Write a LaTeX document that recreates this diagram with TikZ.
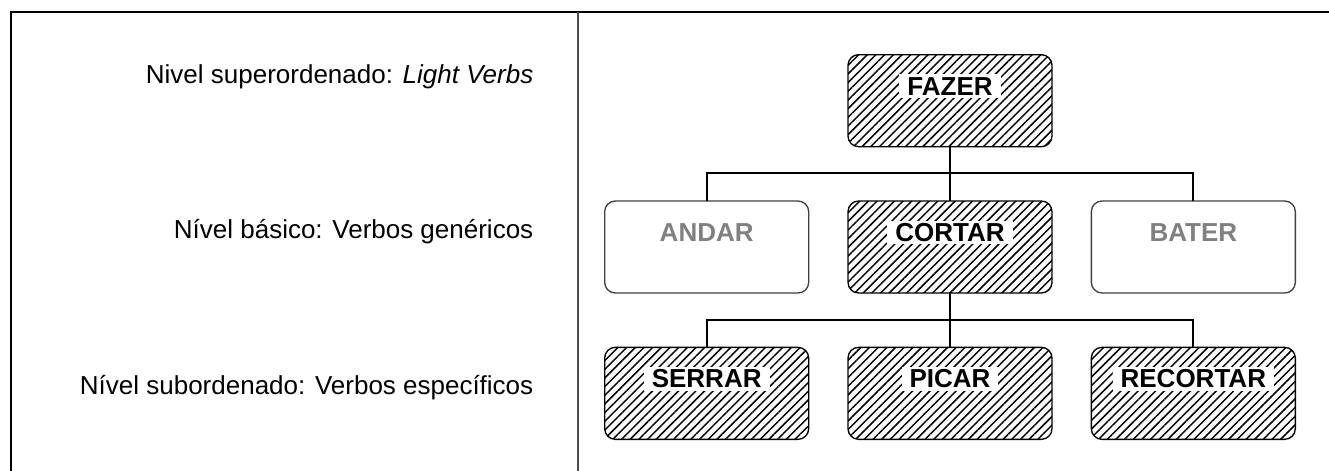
\documentclass[tikz,border=0pt]{standalone}
\usepackage{fontspec}
\setmainfont{Liberation Sans}
\usetikzlibrary{matrix,patterns.meta}

\newcommand{\boxword}[1]{{\setlength{\fboxsep}{2pt}\colorbox{white}{\hspace{4pt}#1\hspace{4pt}}}}

\begin{document}
\begin{tikzpicture}[x=0.75pt,y=-0.75pt,
  box/.style={draw=black,line width=1pt,rounded corners=8pt,minimum width=153pt,minimum height=69pt,
    inner sep=0pt,text height=30.25pt,text depth=38.75pt,font=\fontsize{19.5}{23}\selectfont\bfseries},
  hatched/.style={box,pattern={Lines[angle=45,distance=4.6pt,line width=1.1pt]}},
  plain/.style={box,draw=black!75,fill=white,text=black!50},
  level/.style={anchor=east,font=\fontsize{19.5}{23}\selectfont},
  link/.style={line width=1.5pt}]
\useasboundingbox (0,0) rectangle (1329,471);

% frame and divider
\draw[line width=1.5pt] (11,471)--(11,12)--(1329,12);
\draw[line width=1.2pt,black!70] (578,12)--(578,471);

\matrix (m)[matrix of nodes,anchor=north west,inner sep=0pt,outer sep=0pt,
  column sep=28.5pt,row sep=39.75pt,nodes={hatched}] at (604,54) {
 & \boxword{FAZER} & \\
|[plain]| ANDAR & \boxword{CORTAR} & |[plain]| BATER \\
\boxword{SERRAR} & \boxword{PICAR} & \boxword{RECORTAR} \\
};

\draw[link] (m-1-2.south)--(m-2-2.north);
\draw[link] (m-2-1.north)--++(0,-28) -| (m-2-3.north);
\draw[link] (m-2-2.south)--(m-3-2.north);
\draw[link] (m-3-1.north)--++(0,-27) -| (m-3-3.north);

% levels
\node[level] (sup) at (538,77) {Nivel superordenado: \textit{Light Verbs}};
\node[level] (bas) at (538,232) {Nível básico: Verbos genéricos};
\node[level] (sub) at (538,388) {Nível subordenado: Verbos específicos};
\end{tikzpicture}
\end{document}
